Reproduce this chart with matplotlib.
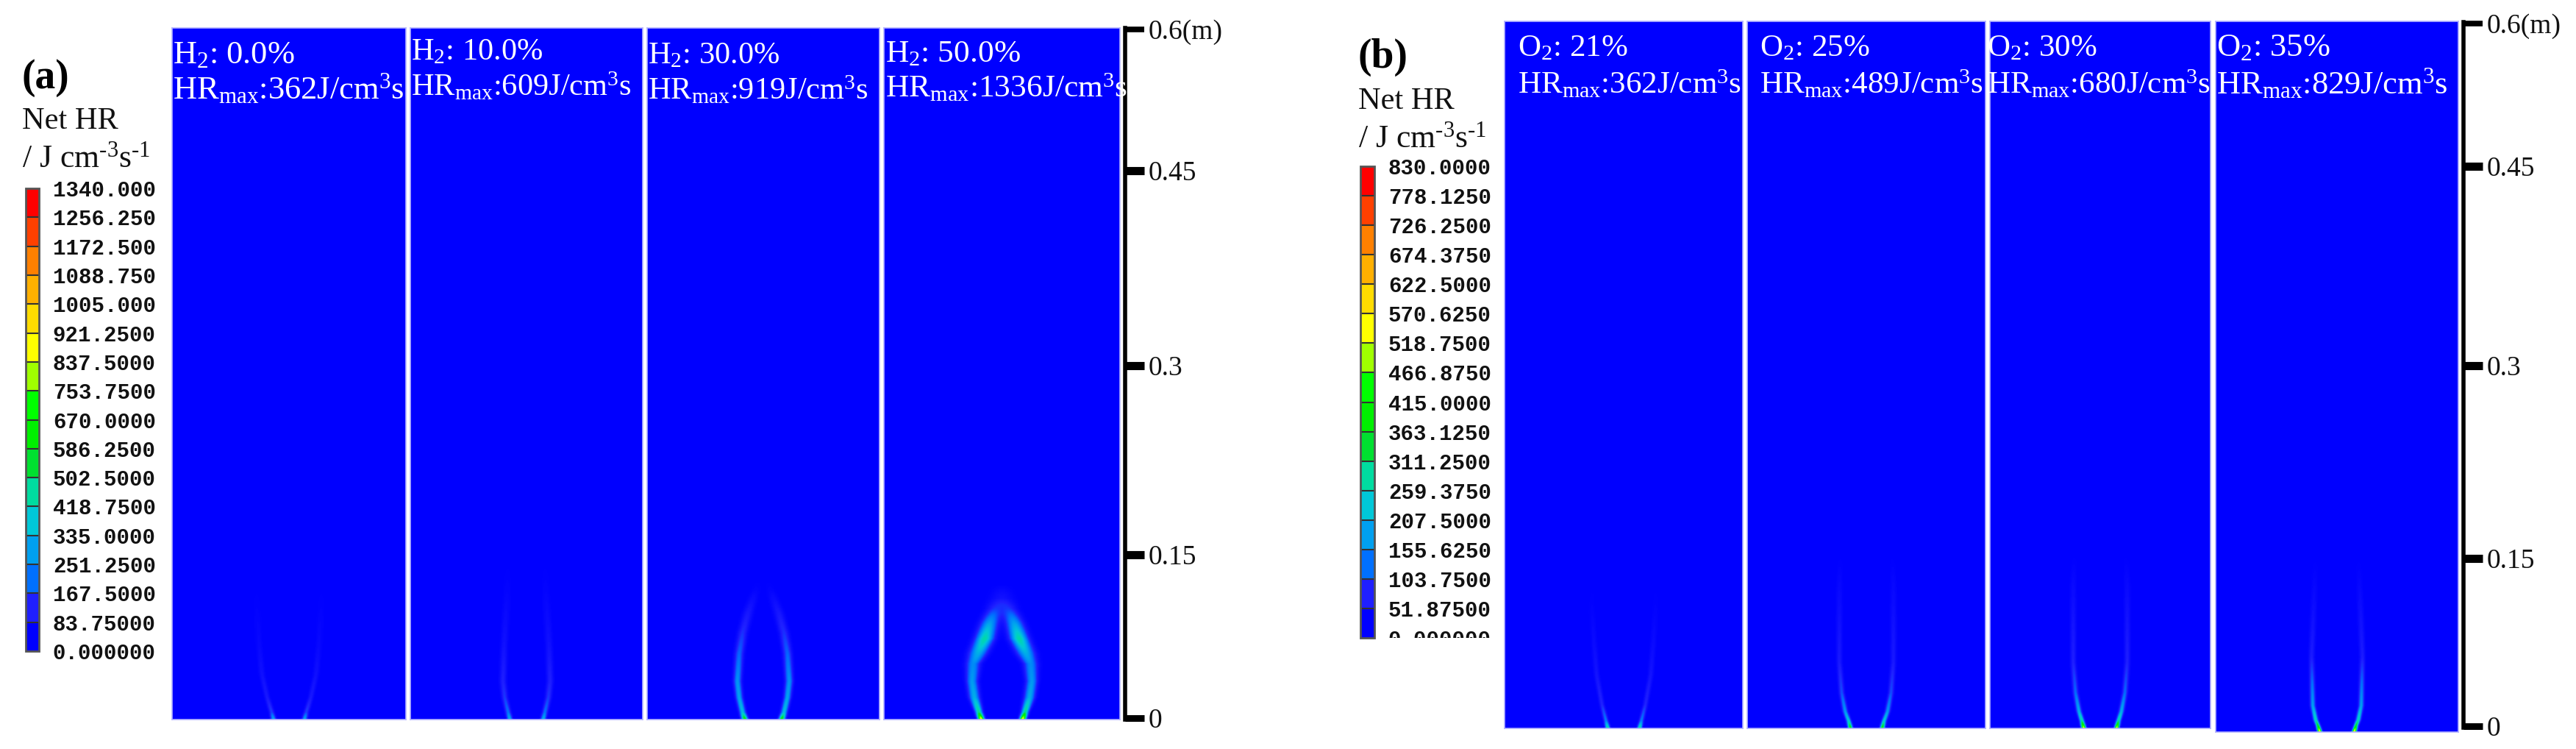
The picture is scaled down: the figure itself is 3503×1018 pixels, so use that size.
import numpy as np
import matplotlib
matplotlib.use('Agg')
import matplotlib.pyplot as plt
from matplotlib.cm import ScalarMappable
from matplotlib.colors import BoundaryNorm, LinearSegmentedColormap, ListedColormap
from matplotlib.transforms import Bbox

plt.rcParams['font.family'] = ['Liberation Serif', 'DejaVu Sans']
plt.rcParams['mathtext.fontset'] = 'custom'
plt.rcParams['mathtext.rm'] = 'Liberation Serif'
plt.rcParams['mathtext.default'] = 'rm'

W, H = 3503, 1018

# colorbar levels, as printed
levels_a = ['0.000000', '83.75000', '167.5000', '251.2500', '335.0000', '418.7500',
            '502.5000', '586.2500', '670.0000', '753.7500', '837.5000', '921.2500',
            '1005.000', '1088.750', '1172.500', '1256.250', '1340.000']
levels_b = ['0.000000', '51.87500', '103.7500', '155.6250', '207.5000', '259.3750',
            '311.2500', '363.1250', '415.0000', '466.8750', '518.7500', '570.6250',
            '622.5000', '674.3750', '726.2500', '778.1250', '830.0000']
band_colors = ['#0000ff', '#1f1fff', '#0070ff', '#00a0f0', '#00c8d8', '#00dca0',
               '#00e030', '#00f000', '#00ff00', '#a0ff00', '#ffff00', '#ffdc00',
               '#ffb000', '#ff8000', '#ff4000', '#ff0000']

# panel captions
gas_a = ['H$_2$: 0.0%', 'H$_2$: 10.0%', 'H$_2$: 30.0%', 'H$_2$: 50.0%']
hrmax_a = [362, 609, 919, 1336]
gas_b = ['O$_2$: 21%', 'O$_2$: 25%', 'O$_2$: 30%', 'O$_2$: 35%']
hrmax_b = [362, 489, 680, 829]

# height axis labels
scale_labels = ['0', '0.15', '0.3', '0.45', '0.6(m)']

# flame ridges: height (mm), half width (mm), peak HR, ridge sigma (mm)
a1_h = [0, 6, 19, 39, 64, 98, 120]
a1_w = [13.5, 15, 19, 23.5, 26, 28, 28]
a1_v = [290, 130, 70, 45, 25, 10, 0]
a1_s = [1.5, 1.5, 1.6, 1.8, 2, 2.5, 2.5]

a2_h = [0, 6, 19, 33, 64, 107, 140]
a2_w = [14.5, 16, 19, 20.5, 19.5, 17, 16]
a2_v = [320, 190, 120, 90, 50, 18, 0]
a2_s = [1.5, 1.6, 1.8, 2, 2.2, 2.5, 2.5]

a3_h = [0, 6, 19, 33, 57, 75, 92, 112, 122]
a3_w = [16, 18, 21, 22.5, 21, 18, 13.5, 6.5, 4]
a3_v = [640, 340, 280, 250, 170, 110, 70, 15, 0]
a3_s = [1.8, 1.8, 2, 2.2, 2.5, 2.8, 3, 3, 3]

a4_h = [0, 6, 19, 33, 48, 57, 70, 83, 96, 105, 118]
a4_w = [18, 20, 24, 26, 25, 21, 15, 11, 6, 3, 1]
a4_v = [950, 480, 300, 260, 230, 300, 440, 280, 110, 30, 0]
a4_s = [1.8, 2, 3, 3.2, 4, 5, 5, 5, 5, 6, 6]

b1_h = [0, 6, 20, 45, 70, 100, 125]
b1_w = [13.5, 15, 18.5, 23, 25, 27, 27]
b1_v = [300, 130, 60, 35, 20, 8, 0]
b1_s = [1.3, 1.3, 1.4, 1.6, 1.8, 2, 2]

b2_h = [0, 6, 14, 30, 56, 120, 150]
b2_w = [13.5, 15, 18, 21, 23, 23, 22]
b2_v = [400, 240, 160, 90, 45, 15, 0]
b2_s = [1.3, 1.3, 1.4, 1.5, 1.6, 2, 2]

b3_h = [0, 6, 14, 30, 56, 120, 150]
b3_w = [14, 15.5, 18, 21, 23, 23, 22]
b3_v = [560, 290, 190, 110, 55, 18, 0]
b3_s = [1.3, 1.3, 1.4, 1.5, 1.6, 2, 2]

b4_h = [0, 5, 10, 22, 63, 125, 150]
b4_w = [14.6, 16, 18, 20.5, 21.5, 19, 18]
b4_v = [620, 360, 260, 170, 50, 12, 0]
b4_s = [1.2, 1.2, 1.3, 1.4, 1.6, 2, 2]

flames_a = [(a1_h, a1_w, a1_v, a1_s), (a2_h, a2_w, a2_v, a2_s),
            (a3_h, a3_w, a3_v, a3_s), (a4_h, a4_w, a4_v, a4_s)]
flames_b = [(b1_h, b1_w, b1_v, b1_s), (b2_h, b2_w, b2_v, b2_s),
            (b3_h, b3_w, b3_v, b3_s), (b4_h, b4_w, b4_v, b4_s)]


def pixel_axes(fig, left, top, right, bottom):
    return fig.add_axes([left / W, 1 - bottom / H, (right - left) / W, (bottom - top) / H])


def flame_field(flame, width_mm, height_mm=600):
    h, w, v, s = flame
    x = np.linspace(-width_mm / 2, width_mm / 2, 400)
    y = np.linspace(0, height_mm, 1000)
    ww = np.interp(y, h, w)[:, None]
    vv = np.interp(y, h, v, right=0)[:, None]
    ss = np.interp(y, h, s)[:, None]
    return (vv * np.exp(-(x - ww) ** 2 / (2 * ss ** 2))
            + vv * np.exp(-(x + ww) ** 2 / (2 * ss ** 2)))


def draw_panel(fig, box, flame, vmax, cmap):
    left, top, right, bottom = box
    ax = pixel_axes(fig, left, top, right, bottom)
    width_mm = 600 * (right - left) / (bottom - top)
    ax.imshow(flame_field(flame, width_mm), origin='lower', aspect='auto', cmap=cmap,
              vmin=0, vmax=vmax, interpolation='bilinear',
              extent=[-width_mm / 2, width_mm / 2, 0, 600])
    ax.set_xticks([])
    ax.set_yticks([])
    for sp in ax.spines.values():
        sp.set_color('#b4b4ff')
        sp.set_linewidth(1.2)


def draw_colorbar(fig, box, labels, clip_bottom=None):
    left, top, right, bottom = box
    cax = pixel_axes(fig, left, top, right, bottom)
    values = [float(t) for t in labels]
    norm = BoundaryNorm(values, len(band_colors))
    cb = fig.colorbar(ScalarMappable(norm=norm, cmap=ListedColormap(band_colors)), cax=cax,
                      ticks=values, spacing='uniform', drawedges=True)
    cb.set_ticklabels(labels)
    cb.minorticks_off()
    cb.outline.set_edgecolor('#555555')
    cb.outline.set_linewidth(2)
    cb.dividers.set_color('#333333')
    cb.dividers.set_linewidth(1.5)
    cax.tick_params(axis='y', length=0, pad=13.5)
    for lab in cax.get_yticklabels():
        lab.set_fontfamily('Liberation Mono')
        lab.set_fontweight('bold')
        lab.set_fontsize(21)
        lab.set_color('#111111')
        if clip_bottom is not None:
            lab.set_clip_on(True)
            lab.set_clip_box(Bbox([[0, H - clip_bottom], [W, H]]))


def draw_ruler(fig, x, positions, top, bottom):
    ax = fig.add_axes([(x - 40) / W, 0, 40 / W, 1])
    ax.set_ylim(H, 0)
    ax.patch.set_alpha(0)
    ax.set_xticks([])
    for name in ['left', 'top', 'bottom']:
        ax.spines[name].set_visible(False)
    ax.spines['right'].set_linewidth(4)
    ax.spines['right'].set_bounds(top, bottom)
    ax.yaxis.tick_right()
    ax.set_yticks(positions)
    ax.set_yticklabels(scale_labels, fontsize=27, color='#111111')
    ax.tick_params(axis='y', length=19, width=8, pad=4)
    ticks = ax.yaxis.get_major_ticks()
    ticks[0].tick2line.set_markeredgewidth(6.5)
    ticks[-1].tick2line.set_markeredgewidth(5.5)


def caption(fig, x, y1, y2, size, gas, hr):
    fig.text(x / W, 1 - y1 / H, gas, color='white', fontsize=size, va='baseline')
    fig.text(x / W, 1 - y2 / H, 'HR$_{max}$:%dJ/cm$^3$s' % hr, color='white', fontsize=size, va='baseline')


def side_title(fig, letter, x, y):
    fig.text(x / W, 1 - y[0] / H, letter, fontsize=40, fontweight='bold', va='baseline')
    fig.text(x / W, 1 - y[1] / H, 'Net HR', fontsize=30.5, va='baseline', color='#111111')
    fig.text(x / W, 1 - y[2] / H, '/ J cm$^{\u20103}$s$^{\u20101}$', fontsize=31.5, va='baseline', color='#111111')


fig = plt.figure(figsize=(W / 100, H / 100), dpi=100, facecolor='white')
smooth = LinearSegmentedColormap.from_list('hr', band_colors)

# (a) hydrogen series
boxes_a = [(234, 38, 552, 978), (558, 38, 874, 978), (880, 38, 1196, 978), (1202, 38, 1523, 978)]
text_a = [(235, 86, 134, 32), (559, 81, 130, 30.5), (881, 86, 135, 30.5), (1204, 84, 132, 31.3)]
for box, flame, gas, hr, t in zip(boxes_a, flames_a, gas_a, hrmax_a, text_a):
    draw_panel(fig, box, flame, 1340, smooth)
    caption(fig, t[0], t[1], t[2], t[3], gas, hr)
draw_colorbar(fig, (35, 256, 53, 885), levels_a)
draw_ruler(fig, 1530, [976, 754, 497, 232, 40], 38, 978)
side_title(fig, '(a)', 30, (120, 175, 227))

# (b) oxygen series
boxes_b = [(2046, 29, 2370, 990), (2376, 29, 2700, 990), (2706, 29, 3006, 990), (3013, 29, 3343, 995)]
text_b = [(2064, 76, 127, 31), (2393, 76, 127, 31), (2702, 76, 127, 31), (3014, 76, 127, 32)]
for box, flame, gas, hr, t in zip(boxes_b, flames_b, gas_b, hrmax_b, text_b):
    draw_panel(fig, box, flame, 830, smooth)
    caption(fig, t[0], t[1], t[2], t[3], gas, hr)
draw_colorbar(fig, (1850, 226, 1869, 867), levels_b, clip_bottom=867)
draw_ruler(fig, 3350, [987, 759, 497, 226, 32], 30, 989)
side_title(fig, '(b)', 1847, (92, 148, 200))

fig.savefig('out.png', dpi=100, facecolor='white')
